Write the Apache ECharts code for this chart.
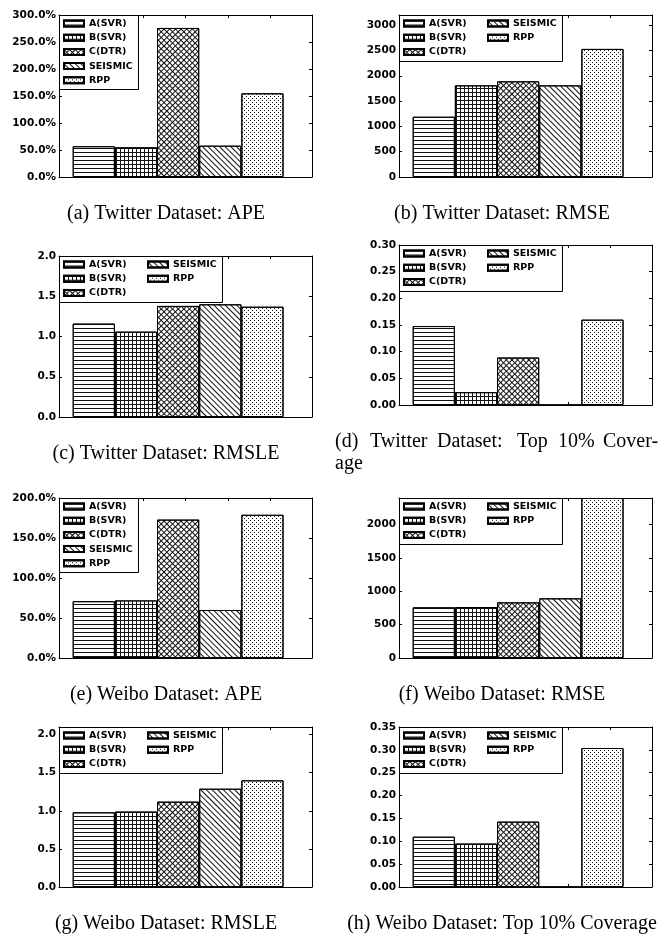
<!DOCTYPE html>
<html><head><meta charset="utf-8">
<script src="https://cdn.jsdelivr.net/npm/echarts@6.0.0/dist/echarts.min.js"></script>
<style>html,body{margin:0;padding:0;background:#fff;}#c{width:665px;height:943px;}</style>
</head><body><div id="c"></div>
<script>
// ---- data ----
const methods = ['A(SVR)', 'B(SVR)', 'C(DTR)', 'SEISMIC', 'RPP'];
const twitterAPE   = [57, 55, 276, 58, 155];        // percent
const twitterRMSE  = [1190, 1810, 1890, 1810, 2530];
const twitterRMSLE = [1.16, 1.06, 1.38, 1.40, 1.37];
const twitterTop10 = [0.148, 0.024, 0.089, 0, 0.160];
const weiboAPE     = [71, 72, 173, 60, 179];        // percent
const weiboRMSE    = [760, 765, 835, 895, 2400];
const weiboRMSLE   = [0.98, 0.99, 1.12, 1.29, 1.40];
const weiboTop10   = [0.110, 0.095, 0.143, 0, 0.304];
const captions = ['(a) Twitter Dataset: APE', '(b) Twitter Dataset: RMSE', '(c) Twitter Dataset: RMSLE',
  '(d) Twitter Dataset: Top 10% Coverage', '(e) Weibo Dataset: APE', '(f) Weibo Dataset: RMSE',
  '(g) Weibo Dataset: RMSLE', '(h) Weibo Dataset: Top 10% Coverage'];
const yMax  = [300, 3200, 2.0, 0.30, 200, 2400, 2.1, 0.35];
const yStep = [50, 500, 0.5, 0.05, 50, 500, 0.5, 0.05];
const yFmt  = ['pct', 'int', 'd1', 'd2', 'pct', 'int', 'd1', 'd2'];
const seriesValues = [twitterAPE, twitterRMSE, twitterRMSLE, twitterTop10, weiboAPE, weiboRMSE, weiboRMSLE, weiboTop10];

// ---- layout / style ----
const frames = [[59,15,253,162],[399,15,253,162],[59,256,253,161],[399,245,253,160],
                [59,498,253,160],[399,498,253,160],[59,727,253,160],[399,727,253,160]];
const legendCols = [1,2,2,2,1,2,2,2];
const capPos = [[166,214],[502,214],[166,454],[502,442],[166,695],[502,695],[166,924],[502,924]];

const decals = [
  {symbol:'rect', symbolSize:1, color:'#111', dashArrayX:[[4,0]], dashArrayY:[1,3], rotation:0},
  {symbol:'rect', symbolSize:1, color:'#111', dashArrayX:[[4,0],[1,3]], dashArrayY:[1,0,3,0], rotation:0},
  {symbol:'rect', symbolSize:1, color:'#111', dashArrayX:[[4,0],[1,3]], dashArrayY:[1,0,3,0], rotation:Math.PI/4},
  {symbol:'rect', symbolSize:1, color:'#111', dashArrayX:[[4,0]], dashArrayY:[1,3], rotation:Math.PI/4},
  {symbol:'rect', symbolSize:1, color:'#111', dashArrayX:[[1,3],[0,2,1,1]], dashArrayY:[1,1], rotation:0}
];

function fmtFn(kind) {
  return function (v) {
    if (kind === 'pct') return v.toFixed(1) + '%';
    if (kind === 'int') return String(Math.round(v));
    if (kind === 'd1') return v.toFixed(1);
    return v.toFixed(2);
  };
}

const labelFont = {fontFamily:'DejaVu Sans', fontWeight:'bold', fontSize:10.5, color:'#000'};
const axisLine = {show:true, onZero:false, lineStyle:{color:'#000', width:1}};
const tick = {show:true, inside:true, length:3, lineStyle:{color:'#000', width:1}};

const grid = [], xAxis = [], yAxis = [], series = [], legend = [], graphic = [];

frames.forEach(function (f, p) {
  grid.push({left:f[0], top:f[1], width:f[2], height:f[3], containLabel:false, outerBoundsMode:'none'});
  const xBase = {type:'value', gridIndex:p, min:-0.825, max:5.175, interval:1,
    axisLine:axisLine, axisTick:tick, axisLabel:{show:false}, splitLine:{show:false}};
  xAxis.push(Object.assign({position:'bottom'}, xBase));
  xAxis.push(Object.assign({position:'top'}, xBase));
  const ratio = yMax[p] / yStep[p];
  const maxIsTick = Math.abs(ratio - Math.round(ratio)) < 1e-6;
  const yBase = {type:'value', gridIndex:p, min:0, max:yMax[p], interval:yStep[p],
    axisLine:axisLine, axisTick:tick, splitLine:{show:false}};
  yAxis.push(Object.assign({position:'left',
    axisLabel:Object.assign({show:true, margin:3, formatter:fmtFn(yFmt[p]), showMaxLabel:maxIsTick}, labelFont)}, yBase));
  yAxis.push(Object.assign({position:'right', axisLabel:{show:false}}, yBase));

  methods.forEach(function (m, i) {
    series.push({
      type:'bar', name:m, xAxisIndex:2*p, yAxisIndex:2*p,
      data:[[i, seriesValues[p][i]]],
      barWidth:'100%', barGap:'-100%',
      itemStyle:{color:'#fff', borderColor:'#000', borderWidth:1, decal:decals[i]},
      emphasis:{disabled:true}, z:2
    });
  });

  const lt = {orient:'vertical', top:f[1] + 2.5, padding:0, itemGap:2.2, itemWidth:20, itemHeight:6,
    icon:'rect', selectedMode:false, z:5,
    textStyle:{fontFamily:'DejaVu Sans', fontWeight:'bold', fontSize:9.5, color:'#000', lineHeight:12}};
  if (legendCols[p] === 1) {
    legend.push(Object.assign({left:f[0] + 4, data:methods.slice()}, lt));
    graphic.push({type:'rect', z:3, shape:{x:f[0] + 0.5, y:f[1] + 0.5, width:79, height:74},
      style:{fill:'#fff', stroke:'#000', lineWidth:1}});
  } else {
    legend.push(Object.assign({left:f[0] + 4, data:methods.slice(0, 3)}, lt));
    legend.push(Object.assign({left:f[0] + 88, data:methods.slice(3)}, lt));
    graphic.push({type:'rect', z:3, shape:{x:f[0] + 0.5, y:f[1] + 0.5, width:163, height:46},
      style:{fill:'#fff', stroke:'#000', lineWidth:1}});
  }
});

const capFont = '20px "Liberation Serif"';
captions.forEach(function (c, p) {
  if (p === 3) {
    const words = ['(d)', 'Twitter', 'Dataset:', 'Top', '10%', 'Cover-'];
    const wx = [335, 370, 437, 517, 558, 603];
    words.forEach(function (w, k) {
      graphic.push({type:'text', z:5, style:{text:w, x:wx[k], y:capPos[p][1], font:capFont, fill:'#000',
        textAlign:'left', textVerticalAlign:'middle'}});
    });
    graphic.push({type:'text', z:5, style:{text:'age', x:335, y:capPos[p][1] + 22, font:capFont, fill:'#000',
      textAlign:'left', textVerticalAlign:'middle'}});
  } else {
    graphic.push({type:'text', z:5, style:{text:c, x:capPos[p][0], y:capPos[p][1], font:capFont, fill:'#000',
      textAlign:'center', textVerticalAlign:'middle'}});
  }
});

const chart = echarts.init(document.getElementById('c'), null, {renderer:'canvas'});
chart.setOption({
  animation:false, backgroundColor:'#fff',
  grid:grid, xAxis:xAxis, yAxis:yAxis, series:series, legend:legend, graphic:graphic
});
</script></body></html>
